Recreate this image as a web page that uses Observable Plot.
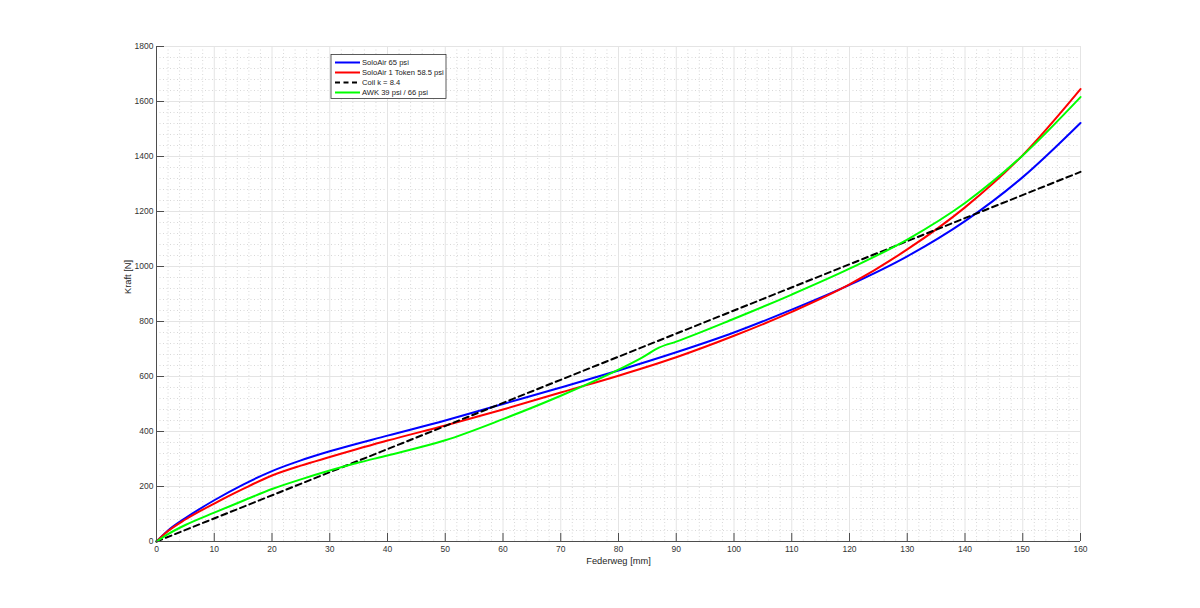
<!DOCTYPE html>
<html>
<head>
<meta charset="utf-8">
<script src="https://cdn.jsdelivr.net/npm/d3@7"></script>
<script src="https://cdn.jsdelivr.net/npm/@observablehq/plot@0.6"></script>
<style>
  body { margin: 0; background: #fff; }
  #chart svg { display: block; }
</style>
</head>
<body>
<div id="chart"></div>
<script>
// ---- Data ----
const seriesNames = ["SoloAir 65 psi", "SoloAir 1 Token 58.5 psi", "Coil k = 8.4", "AWK 39 psi / 66 psi"];
const seriesColors = ["#0000ff", "#ff0000", "#000000", "#00ff00"];

const federwegSolo = [0, 2, 5, 10, 15, 20, 25, 30, 40, 50, 60, 70, 80, 90, 100, 110, 120, 130, 140, 150, 160];
const kraftSolo65 = [0, 40, 85, 150, 207, 256, 295, 328, 385, 440, 500, 560, 622, 688, 760, 843, 933, 1037, 1165, 1325, 1522];
const kraftSoloToken = [0, 38, 80, 138, 191, 240, 276, 307, 367, 422, 480, 542, 603, 670, 748, 835, 935, 1062, 1215, 1405, 1645];

const federwegCoil = [0, 160];
const kraftCoil = [0, 1344];

const federwegAwk = [0, 2, 5, 10, 15, 20, 25, 30, 35, 40, 50, 60, 70, 80, 84, 87, 90, 100, 110, 120, 130, 140, 150, 160];
const kraftAwk = [0, 27, 60, 105, 148, 191, 226, 258, 287, 313, 368, 445, 530, 625, 668, 705, 727, 810, 898, 992, 1098, 1231, 1404, 1616];

const xTicks = [0, 10, 20, 30, 40, 50, 60, 70, 80, 90, 100, 110, 120, 130, 140, 150, 160];
const yTicks = [0, 200, 400, 600, 800, 1000, 1200, 1400, 1600, 1800];
const xMinor = d3.range(0, 161, 2).filter(v => v % 10 !== 0);
const yMinor = d3.range(0, 1801, 40).filter(v => v % 200 !== 0);

const xLabel = "Federweg [mm]";
const yLabel = "Kraft [N]";

// ---- Build tables ----
const toRows = (xs, ys, s) => xs.map((x, i) => ({x, y: ys[i], series: s}));
const rows = [
  ...toRows(federwegSolo, kraftSolo65, seriesNames[0]),
  ...toRows(federwegSolo, kraftSoloToken, seriesNames[1]),
  ...toRows(federwegCoil, kraftCoil, seriesNames[2]),
  ...toRows(federwegAwk, kraftAwk, seriesNames[3])
];
const bySeries = s => rows.filter(r => r.series === s);

const W = 1200, H = 608;
const mL = 156, mR = 120, mT = 46, mB = 67;
const innerW = W - mL - mR, innerH = H - mT - mB;
const tickLen = 8;
const font = "'Liberation Sans', Arial, Helvetica, sans-serif";

const chart = Plot.plot({
  width: W,
  height: H,
  marginLeft: mL,
  marginRight: mR,
  marginTop: mT,
  marginBottom: mB,
  style: {fontFamily: font, fontSize: "8.5px", color: "#333", background: "#fff", overflow: "visible"},
  x: {domain: [0, 160]},
  y: {domain: [0, 1800]},
  marks: [
    // minor grid
    Plot.ruleX(xMinor, {stroke: "#d8d8d8", strokeWidth: 1, strokeDasharray: "1,2.5"}),
    Plot.ruleY(yMinor, {stroke: "#d8d8d8", strokeWidth: 1, strokeDasharray: "1,2.5"}),
    // major grid
    Plot.ruleX(xTicks, {stroke: "#e4e4e4", strokeWidth: 1}),
    Plot.ruleY(yTicks, {stroke: "#e4e4e4", strokeWidth: 1}),
    // data lines
    Plot.line(bySeries(seriesNames[0]), {x: "x", y: "y", stroke: seriesColors[0], strokeWidth: 2, curve: "monotone-x"}),
    Plot.line(bySeries(seriesNames[1]), {x: "x", y: "y", stroke: seriesColors[1], strokeWidth: 2, curve: "monotone-x"}),
    Plot.line(bySeries(seriesNames[2]), {x: "x", y: "y", stroke: seriesColors[2], strokeWidth: 2, strokeDasharray: "6,4"}),
    Plot.line(bySeries(seriesNames[3]), {x: "x", y: "y", stroke: seriesColors[3], strokeWidth: 2, curve: "monotone-x"}),
    // axis lines
    Plot.ruleX([0], {stroke: "#4d4d4d", strokeWidth: 1}),
    Plot.ruleY([0], {stroke: "#4d4d4d", strokeWidth: 1}),
    // inward ticks
    Plot.tickX(xTicks, {x: d => d, stroke: "#4d4d4d", insetTop: innerH - tickLen}),
    Plot.tickY(yTicks, {y: d => d, stroke: "#4d4d4d", insetRight: innerW - tickLen}),
    // tick labels
    Plot.axisX(xTicks, {tickSize: 0, tickPadding: 4, label: null, fill: "#333", tickFormat: d => String(d)}),
    Plot.axisY(yTicks, {tickSize: 0, tickPadding: 3, label: null, fill: "#333", tickFormat: d => String(d)}),
    // axis titles
    Plot.text([xLabel], {frameAnchor: "bottom", dy: 22, fontSize: 9.3, fill: "#262626"}),
    Plot.text([yLabel], {frameAnchor: "left", dx: -28, rotate: -90, fontSize: 9.3, fill: "#262626"})
  ]
});

document.getElementById("chart").appendChild(chart);

// ---- Legend (inside the axes, top-left) ----
const svg = d3.select(chart);
const lg = svg.append("g")
  .attr("font-family", font)
  .attr("font-size", "7.6px")
  .attr("text-anchor", "start")
  .attr("fill", "#1a1a1a");
lg.append("rect")
  .attr("x", 331).attr("y", 54.5).attr("width", 115).attr("height", 44)
  .attr("fill", "#fff").attr("stroke", "#333").attr("stroke-width", 0.8);
seriesNames.forEach((name, i) => {
  const y = 62.5 + i * 10;
  lg.append("line")
    .attr("x1", 335).attr("x2", 360).attr("y1", y).attr("y2", y)
    .attr("stroke", seriesColors[i]).attr("stroke-width", 2)
    .attr("stroke-dasharray", i === 2 ? "5,3.5" : null);
  lg.append("text")
    .attr("x", 362).attr("y", y).attr("dy", "0.35em")
    .attr("text-anchor", "start")
    .text(name);
});
</script>
</body>
</html>
